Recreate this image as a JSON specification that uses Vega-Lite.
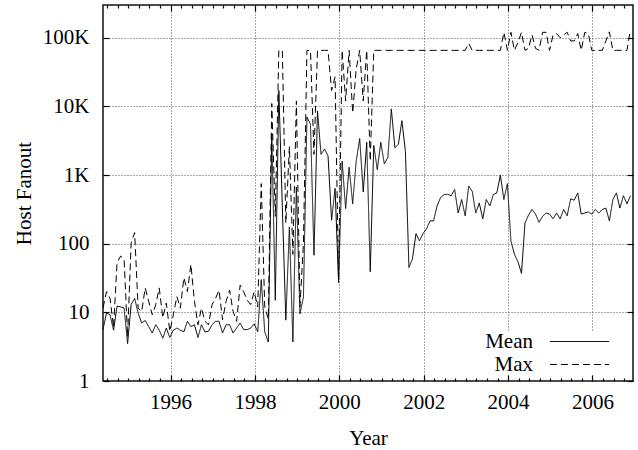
{
  "$schema": "https://vega.github.io/schema/vega-lite/v6.json",
  "width": 530,
  "height": 376,
  "autosize": {"type": "none"},
  "padding": {"left": 103, "top": 5, "right": 5, "bottom": 69},
  "background": "white",
  "config": {
    "font": "Liberation Serif",
    "view": {"stroke": "#111111", "strokeWidth": 1.5},
    "axis": {
      "labelFont": "Liberation Serif",
      "titleFont": "Liberation Serif",
      "labelFontSize": 21,
      "titleFontSize": 21,
      "titleFontWeight": "normal",
      "labelColor": "black",
      "titleColor": "black",
      "domain": false,
      "ticks": true,
      "tickColor": "black",
      "tickWidth": 1.2,
      "labelOverlap": false,
      "labelFlush": false
    }
  },
  "data": {
    "values": [
      {"t": 1994.4, "Mean": 5.6, "Max": 11.6},
      {"t": 1994.483, "Mean": 9.8, "Max": 20},
      {"t": 1994.567, "Mean": 9.2, "Max": 16},
      {"t": 1994.65, "Mean": 5.5, "Max": 6},
      {"t": 1994.733, "Mean": 12.3, "Max": 53},
      {"t": 1994.817, "Mean": 12, "Max": 66},
      {"t": 1994.9, "Mean": 11.6, "Max": 60},
      {"t": 1994.983, "Mean": 3.5, "Max": 4.4},
      {"t": 1995.067, "Mean": 13, "Max": 103},
      {"t": 1995.15, "Mean": 16, "Max": 145},
      {"t": 1995.233, "Mean": 9.8, "Max": 11.5},
      {"t": 1995.317, "Mean": 7, "Max": 10.3},
      {"t": 1995.4, "Mean": 7.6, "Max": 22.7},
      {"t": 1995.483, "Mean": 6.2, "Max": 14.5},
      {"t": 1995.567, "Mean": 5, "Max": 9.2},
      {"t": 1995.65, "Mean": 6.6, "Max": 12.9},
      {"t": 1995.733, "Mean": 5.5, "Max": 22.7},
      {"t": 1995.817, "Mean": 4.2, "Max": 8.3},
      {"t": 1995.9, "Mean": 5.9, "Max": 13.7},
      {"t": 1995.983, "Mean": 4.3, "Max": 5.3},
      {"t": 1996.067, "Mean": 5.5, "Max": 9.2},
      {"t": 1996.15, "Mean": 5.9, "Max": 17},
      {"t": 1996.233, "Mean": 5.5, "Max": 11.5},
      {"t": 1996.317, "Mean": 5.2, "Max": 32},
      {"t": 1996.4, "Mean": 7.4, "Max": 20},
      {"t": 1996.483, "Mean": 6.2, "Max": 50},
      {"t": 1996.567, "Mean": 6.6, "Max": 14.5},
      {"t": 1996.65, "Mean": 4.3, "Max": 6.6},
      {"t": 1996.733, "Mean": 6.6, "Max": 11.5},
      {"t": 1996.817, "Mean": 5.2, "Max": 7.4},
      {"t": 1996.9, "Mean": 5.3, "Max": 6.6},
      {"t": 1996.983, "Mean": 6.6, "Max": 12.9},
      {"t": 1997.067, "Mean": 7.4, "Max": 16},
      {"t": 1997.15, "Mean": 7.4, "Max": 21},
      {"t": 1997.233, "Mean": 5, "Max": 7.8},
      {"t": 1997.317, "Mean": 6.6, "Max": 14.5},
      {"t": 1997.4, "Mean": 6.6, "Max": 21},
      {"t": 1997.483, "Mean": 5, "Max": 10.3},
      {"t": 1997.567, "Mean": 5.9, "Max": 7.4},
      {"t": 1997.65, "Mean": 7, "Max": 25},
      {"t": 1997.733, "Mean": 5.6, "Max": 20},
      {"t": 1997.817, "Mean": 5.6, "Max": 15},
      {"t": 1997.9, "Mean": 5.9, "Max": 13},
      {"t": 1997.983, "Mean": 6.8, "Max": 20},
      {"t": 1998.067, "Mean": 5.2, "Max": 12},
      {"t": 1998.15, "Mean": 30, "Max": 750},
      {"t": 1998.233, "Mean": 5.2, "Max": 12},
      {"t": 1998.317, "Mean": 3.7, "Max": 8},
      {"t": 1998.4, "Mean": 4000, "Max": 11000},
      {"t": 1998.483, "Mean": 15, "Max": 250},
      {"t": 1998.567, "Mean": 17000, "Max": 65536},
      {"t": 1998.65, "Mean": 340, "Max": 65536},
      {"t": 1998.733, "Mean": 7.7, "Max": 200},
      {"t": 1998.817, "Mean": 175, "Max": 2600},
      {"t": 1998.9, "Mean": 3.7, "Max": 70},
      {"t": 1998.983, "Mean": 670, "Max": 12000},
      {"t": 1999.067, "Mean": 9.5, "Max": 12},
      {"t": 1999.15, "Mean": 16.7, "Max": 100},
      {"t": 1999.233, "Mean": 7000, "Max": 65536},
      {"t": 1999.317, "Mean": 5500, "Max": 65536},
      {"t": 1999.4, "Mean": 68, "Max": 2000},
      {"t": 1999.483, "Mean": 8600, "Max": 65536},
      {"t": 1999.567, "Mean": 2000, "Max": 65536},
      {"t": 1999.65, "Mean": 2400, "Max": 65536},
      {"t": 1999.733, "Mean": 1900, "Max": 65536},
      {"t": 1999.817, "Mean": 220, "Max": 17000},
      {"t": 1999.9, "Mean": 640, "Max": 27000},
      {"t": 1999.983, "Mean": 27, "Max": 30},
      {"t": 2000.067, "Mean": 1600, "Max": 65536},
      {"t": 2000.15, "Mean": 325, "Max": 12000},
      {"t": 2000.233, "Mean": 1300, "Max": 65536},
      {"t": 2000.317, "Mean": 380, "Max": 8000},
      {"t": 2000.4, "Mean": 1600, "Max": 35000},
      {"t": 2000.483, "Mean": 3400, "Max": 65536},
      {"t": 2000.567, "Mean": 565, "Max": 12000},
      {"t": 2000.65, "Mean": 3000, "Max": 65536},
      {"t": 2000.733, "Mean": 39, "Max": 1600},
      {"t": 2000.817, "Mean": 2700, "Max": 65536},
      {"t": 2000.9, "Mean": 1200, "Max": 65536},
      {"t": 2000.983, "Mean": 3000, "Max": 65536},
      {"t": 2001.067, "Mean": 1450, "Max": 65536},
      {"t": 2001.15, "Mean": 1800, "Max": 65536},
      {"t": 2001.233, "Mean": 9200, "Max": 65536},
      {"t": 2001.317, "Mean": 2500, "Max": 65536},
      {"t": 2001.4, "Mean": 2800, "Max": 65536},
      {"t": 2001.483, "Mean": 6200, "Max": 65536},
      {"t": 2001.567, "Mean": 2200, "Max": 65536},
      {"t": 2001.65, "Mean": 45, "Max": 65536},
      {"t": 2001.733, "Mean": 60, "Max": 65536},
      {"t": 2001.817, "Mean": 140, "Max": 65536},
      {"t": 2001.9, "Mean": 110, "Max": 65536},
      {"t": 2001.983, "Mean": 140, "Max": 65536},
      {"t": 2002.067, "Mean": 165, "Max": 65536},
      {"t": 2002.15, "Mean": 215, "Max": 65536},
      {"t": 2002.233, "Mean": 215, "Max": 65536},
      {"t": 2002.317, "Mean": 355, "Max": 65536},
      {"t": 2002.4, "Mean": 470, "Max": 65536},
      {"t": 2002.483, "Mean": 520, "Max": 65536},
      {"t": 2002.567, "Mean": 525, "Max": 65536},
      {"t": 2002.65, "Mean": 500, "Max": 65536},
      {"t": 2002.733, "Mean": 615, "Max": 65536},
      {"t": 2002.817, "Mean": 280, "Max": 65536},
      {"t": 2002.9, "Mean": 440, "Max": 65536},
      {"t": 2002.983, "Mean": 255, "Max": 65536},
      {"t": 2003.067, "Mean": 690, "Max": 83000},
      {"t": 2003.15, "Mean": 580, "Max": 65536},
      {"t": 2003.233, "Mean": 280, "Max": 65536},
      {"t": 2003.317, "Mean": 390, "Max": 65536},
      {"t": 2003.4, "Mean": 230, "Max": 65536},
      {"t": 2003.483, "Mean": 440, "Max": 65536},
      {"t": 2003.567, "Mean": 355, "Max": 65536},
      {"t": 2003.65, "Mean": 520, "Max": 65536},
      {"t": 2003.733, "Mean": 550, "Max": 65536},
      {"t": 2003.817, "Mean": 1000, "Max": 65536},
      {"t": 2003.9, "Mean": 440, "Max": 120000},
      {"t": 2003.983, "Mean": 750, "Max": 65536},
      {"t": 2004.067, "Mean": 110, "Max": 120000},
      {"t": 2004.15, "Mean": 70, "Max": 65536},
      {"t": 2004.233, "Mean": 55, "Max": 85000},
      {"t": 2004.317, "Mean": 37, "Max": 120000},
      {"t": 2004.4, "Mean": 200, "Max": 65536},
      {"t": 2004.483, "Mean": 260, "Max": 70000},
      {"t": 2004.567, "Mean": 315, "Max": 110000},
      {"t": 2004.65, "Mean": 270, "Max": 70000},
      {"t": 2004.733, "Mean": 205, "Max": 65536},
      {"t": 2004.817, "Mean": 250, "Max": 120000},
      {"t": 2004.9, "Mean": 280, "Max": 120000},
      {"t": 2004.983, "Mean": 270, "Max": 65536},
      {"t": 2005.067, "Mean": 230, "Max": 110000},
      {"t": 2005.15, "Mean": 280, "Max": 115000},
      {"t": 2005.233, "Mean": 230, "Max": 100000},
      {"t": 2005.317, "Mean": 315, "Max": 110000},
      {"t": 2005.4, "Mean": 255, "Max": 120000},
      {"t": 2005.483, "Mean": 450, "Max": 90000},
      {"t": 2005.567, "Mean": 430, "Max": 90000},
      {"t": 2005.65, "Mean": 550, "Max": 115000},
      {"t": 2005.733, "Mean": 270, "Max": 65536},
      {"t": 2005.817, "Mean": 280, "Max": 120000},
      {"t": 2005.9, "Mean": 290, "Max": 115000},
      {"t": 2005.983, "Mean": 270, "Max": 65536},
      {"t": 2006.067, "Mean": 315, "Max": 65536},
      {"t": 2006.15, "Mean": 280, "Max": 65536},
      {"t": 2006.233, "Mean": 315, "Max": 65536},
      {"t": 2006.317, "Mean": 330, "Max": 90000},
      {"t": 2006.4, "Mean": 215, "Max": 122000},
      {"t": 2006.483, "Mean": 440, "Max": 65536},
      {"t": 2006.567, "Mean": 550, "Max": 65536},
      {"t": 2006.65, "Mean": 330, "Max": 65536},
      {"t": 2006.733, "Mean": 500, "Max": 65536},
      {"t": 2006.817, "Mean": 380, "Max": 65536},
      {"t": 2006.9, "Mean": 500, "Max": 130000}
    ]
  },
  "transform": [{"fold": ["Mean", "Max"], "as": ["series", "value"]}],
  "layer": [
    {
      "mark": {"type": "line", "strokeWidth": 1, "color": "black"},
      "encoding": {
        "x": {
          "field": "t",
          "type": "quantitative",
          "scale": {"domain": [1994.4, 2006.96], "nice": false, "zero": false},
          "axis": {
            "orient": "bottom",
            "title": "Year",
            "values": [1994.5, 1994.75, 1995, 1995.25, 1995.5, 1995.75, 1996, 1996.25, 1996.5, 1996.75, 1997, 1997.25, 1997.5, 1997.75, 1998, 1998.25, 1998.5, 1998.75, 1999, 1999.25, 1999.5, 1999.75, 2000, 2000.25, 2000.5, 2000.75, 2001, 2001.25, 2001.5, 2001.75, 2002, 2002.25, 2002.5, 2002.75, 2003, 2003.25, 2003.5, 2003.75, 2004, 2004.25, 2004.5, 2004.75, 2005, 2005.25, 2005.5, 2005.75, 2006, 2006.25, 2006.5, 2006.75],
            "labelExpr": "datum.value % 2 === 0 ? format(datum.value, 'd') : ''",
            "tickSize": {"condition": {"test": "datum.value % 2 === 0", "value": -6}, "value": -3},
            "grid": true,
            "gridOpacity": {"condition": {"test": "datum.value % 2 === 0", "value": 1}, "value": 0},
            "gridColor": "#555555",
            "gridDash": [1, 2],
            "gridWidth": 1,
            "labelPadding": 16,
            "titlePadding": 12
          }
        },
        "y": {
          "field": "value",
          "type": "quantitative",
          "scale": {"type": "log", "domain": [1, 300000], "nice": false},
          "axis": {
            "orient": "left",
            "title": "Host Fanout",
            "values": [1, 10, 100, 1000, 10000, 100000],
            "labelExpr": "datum.value >= 1000 ? format(datum.value / 1000, 'd') + 'K' : format(datum.value, 'd')",
            "tickSize": -6,
            "grid": true,
            "gridColor": "#555555",
            "gridDash": [1, 2],
            "gridWidth": 1,
            "labelPadding": 20,
            "titlePadding": 8
          }
        },
        "strokeDash": {
          "field": "series",
          "type": "nominal",
          "scale": {"domain": ["Mean", "Max"], "range": [[1, 0], [7, 4]]},
          "legend": {
            "orient": "none",
            "legendX": 378,
            "legendY": 326,
            "title": null,
            "symbolType": "M-5,0H5",
            "symbolSize": 140,
            "symbolOffset": 88,
            "symbolStrokeWidth": 1,
            "symbolStrokeColor": "black",
            "labelFont": "Liberation Serif",
            "labelFontSize": 21,
            "labelColor": "black",
            "labelAlign": "right",
            "labelOffset": -57,
            "rowPadding": 1,
            "fillColor": "white",
            "padding": 0
          }
        }
      }
    },
    {
      "mark": {"type": "line", "strokeOpacity": 0},
      "encoding": {
        "x": {
          "field": "t",
          "type": "quantitative",
          "axis": {
            "orient": "top",
            "title": null,
            "labels": false,
            "grid": false,
            "values": [1994.5, 1994.75, 1995, 1995.25, 1995.5, 1995.75, 1996, 1996.25, 1996.5, 1996.75, 1997, 1997.25, 1997.5, 1997.75, 1998, 1998.25, 1998.5, 1998.75, 1999, 1999.25, 1999.5, 1999.75, 2000, 2000.25, 2000.5, 2000.75, 2001, 2001.25, 2001.5, 2001.75, 2002, 2002.25, 2002.5, 2002.75, 2003, 2003.25, 2003.5, 2003.75, 2004, 2004.25, 2004.5, 2004.75, 2005, 2005.25, 2005.5, 2005.75, 2006, 2006.25, 2006.5, 2006.75],
            "tickSize": {"condition": {"test": "datum.value % 2 === 0", "value": -6}, "value": -3}
          }
        },
        "y": {
          "field": "value",
          "type": "quantitative",
          "axis": {
            "orient": "right",
            "title": null,
            "labels": false,
            "grid": false,
            "values": [1, 10, 100, 1000, 10000, 100000],
            "tickSize": -6
          }
        },
        "detail": {"field": "series", "type": "nominal"}
      }
    }
  ],
  "resolve": {"axis": {"x": "independent", "y": "independent"}}
}
